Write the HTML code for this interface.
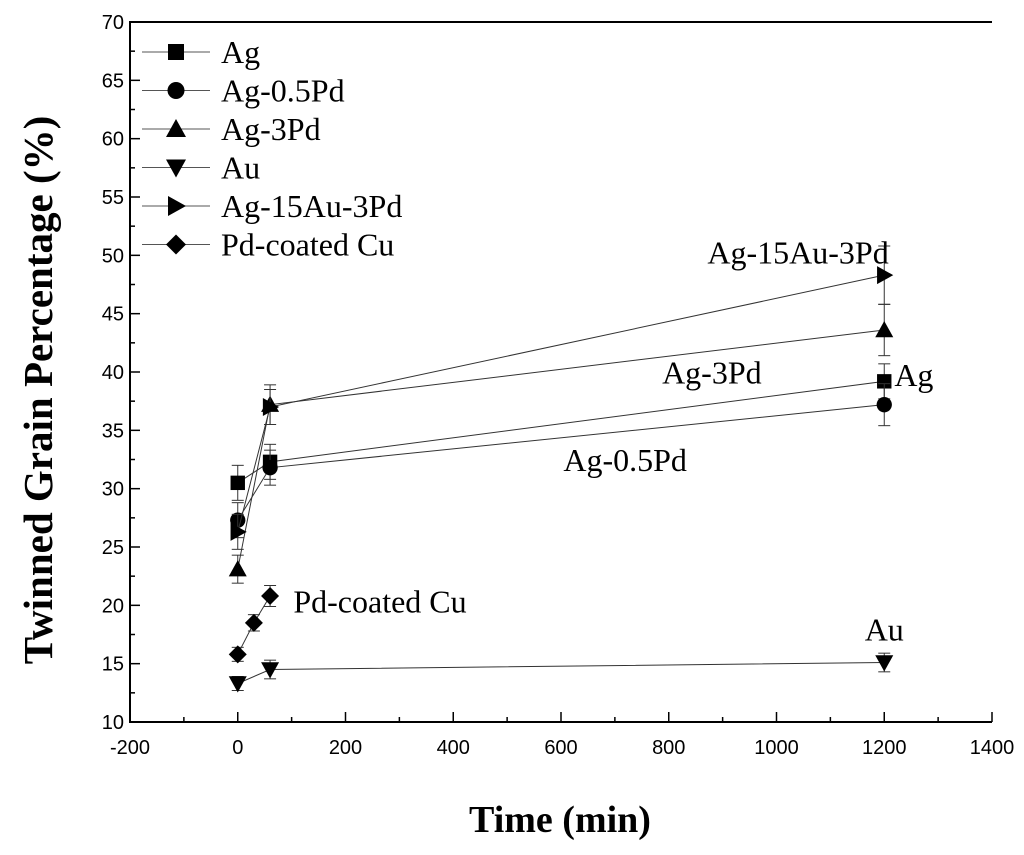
<!DOCTYPE html>
<html><head><meta charset="utf-8"><style>
body{margin:0;background:#fff}
svg text{font-family:"Liberation Sans",sans-serif}
.serif{font-family:"Liberation Serif",serif}
</style></head><body>
<svg id="chart" width="1024" height="850" viewBox="0 0 1024 850">
<g id="axes"></g><g id="series"></g><g id="legend"></g><g id="labels"></g>
<text class="serif" x="560" y="832" font-size="38" font-weight="bold" text-anchor="middle">Time (min)</text>
<text class="serif" transform="translate(52,390) rotate(-90)" font-size="41" font-weight="bold" text-anchor="middle">Twinned Grain Percentage (%)</text>
</svg>
<script>
const seriesNames=["Ag","Ag-0.5Pd","Ag-3Pd","Au","Ag-15Au-3Pd","Pd-coated Cu"];
const seriesX=[[0,60,1200],[0,60,1200],[0,60,1200],[0,60,1200],[0,60,1200],[0,30,60]];
const seriesY=[[30.5,32.3,39.2],[27.3,31.8,37.2],[23.1,37.2,43.6],[13.3,14.5,15.1],[26.3,37.0,48.3],[15.8,18.5,20.8]];
const seriesErr=[[1.5,1.5,1.5],[1.5,1.5,1.8],[1.2,1.7,2.2],[0.6,0.8,0.8],[1.5,1.5,2.5],[0.6,0.7,0.9]];
const xTicks=[-200,0,200,400,600,800,1000,1200,1400];
const yTicks=[10,15,20,25,30,35,40,45,50,55,60,65,70];
const markers=["square","circle","up","down","right","diamond"];
const annotations=[["Ag-15Au-3Pd",1040,49.3],["Ag-3Pd",880,39.0],["Ag",1255,38.8],["Ag-0.5Pd",719,31.5],["Pd-coated Cu",264,19.4],["Au",1200,17.0]];

const NS="http://www.w3.org/2000/svg";
const L=130,R=992,T=22,B=722;
const sx=v=>L+(v+200)*(R-L)/1600;
const sy=v=>B-(v-10)*(B-T)/60;
function mk(tag,at,parent){const e=document.createElementNS(NS,tag);for(const k in at)e.setAttribute(k,at[k]);parent.appendChild(e);return e;}
const ax=document.getElementById('axes'),sg=document.getElementById('series'),lg=document.getElementById('legend'),lb=document.getElementById('labels');
const frame=mk('path',{d:`M${R},${T} H${L} V${B} H${R}`,fill:'none',stroke:'#000','stroke-width':2},ax);


xTicks.forEach((v,i)=>{const x=sx(v);
 mk('line',{x1:x,x2:x,y1:B,y2:B-10,stroke:'#000','stroke-width':1.5},ax);
 if(i<xTicks.length-1) mk('line',{x1:sx(v+100),x2:sx(v+100),y1:B,y2:B-5,stroke:'#000','stroke-width':1.5},ax);
 const t=mk('text',{x:x,y:B+32,'font-size':20,'text-anchor':'middle'},ax);t.textContent=v;
 
 });
yTicks.forEach((v,i)=>{const y=sy(v);
 mk('line',{x1:L,x2:L+10,y1:y,y2:y,stroke:'#000','stroke-width':1.5},ax);
 if(i<yTicks.length-1) mk('line',{x1:L,x2:L+5,y1:sy(v+2.5),y2:sy(v+2.5),stroke:'#000','stroke-width':1.5},ax);
 const t=mk('text',{x:L-6,y:y+7,'font-size':20,'text-anchor':'end'},ax);t.textContent=v;
 
 });
function marker(type,x,y,p,s){s=s||9;let e;
 if(type==='square')e=mk('rect',{x:x-s*0.8,y:y-s*0.8,width:s*1.6,height:s*1.6},p);
 else if(type==='circle')e=mk('circle',{cx:x,cy:y,r:s*0.85},p);
 else if(type==='up')e=mk('polygon',{points:`${x},${y-s} ${x-s},${y+s*0.8} ${x+s},${y+s*0.8}`},p);
 else if(type==='down')e=mk('polygon',{points:`${x},${y+s} ${x-s},${y-s*0.8} ${x+s},${y-s*0.8}`},p);
 else if(type==='right')e=mk('polygon',{points:`${x+s},${y} ${x-s*0.8},${y-s} ${x-s*0.8},${y+s}`},p);
 else e=mk('polygon',{points:`${x},${y-s} ${x+s},${y} ${x},${y+s} ${x-s},${y}`},p);
 e.setAttribute('fill','#000');return e;}
seriesNames.forEach((n,i)=>{const g=mk('g',{},sg);
 
 
 const pts=seriesX[i].map((v,j)=>sx(v)+','+sy(seriesY[i][j])).join(' ');
 mk('polyline',{points:pts,fill:'none',stroke:'#333','stroke-width':1},g);
 seriesX[i].forEach((v,j)=>{const x=sx(v),y1=sy(seriesY[i][j]-seriesErr[i][j]),y2=sy(seriesY[i][j]+seriesErr[i][j]);
  mk('line',{x1:x,x2:x,y1:y1,y2:y2,stroke:'#333','stroke-width':1},g);
  mk('line',{x1:x-6,x2:x+6,y1:y1,y2:y1,stroke:'#333','stroke-width':1},g);
  mk('line',{x1:x-6,x2:x+6,y1:y2,y2:y2,stroke:'#333','stroke-width':1},g);
  const m=marker(markers[i],x,sy(seriesY[i][j]),g);
  
  });});
seriesNames.forEach((n,i)=>{const y=52+i*38.5;const g=mk('g',{},lg);
 
 
 mk('line',{x1:142,x2:210,y1:y,y2:y,stroke:'#555','stroke-width':1},g);
 marker(markers[i],176,y,g,10);
 const t=mk('text',{x:221,y:y+11,'font-size':32,class:'serif'},g);t.textContent=n;});
annotations.forEach(a=>{const t=mk('text',{x:sx(a[1]),y:sy(a[2]),'font-size':32,class:'serif','text-anchor':'middle'},lb);t.textContent=a[0];
 
 });
</script>
</body></html>
